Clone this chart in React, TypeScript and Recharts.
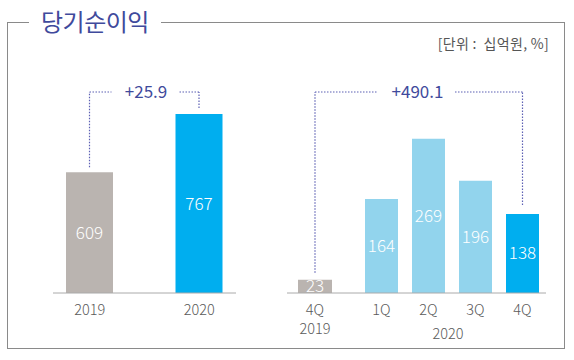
import React from 'react';
import { BarChart, Bar, XAxis, YAxis, LabelList, Cell } from 'recharts';

const yearCats = ['2019', '2020'];
const yearValues = [609, 767];
const yearGrowth = '+25.9';

const prevQuarterCat = ['4Q'];
const prevQuarterValues = [23];
const quarterCats = ['1Q', '2Q', '3Q', '4Q'];
const quarterValues = [164, 269, 196, 138];
const quarterGrowth = '+490.1';

const FONT = '"Noto Sans CJK KR", "Noto Sans", sans-serif';
const GRAY = '#bab4b0';
const BLUE = '#00aeef';
const LIGHT = '#92d4ed';
const NAVY = '#3f4a9c';
const DOT = '#5d60b4';
const TICK = '#5a5a5a';
const BRACKET_Y = 92;

const yearData = yearCats.map((name, i) => ({ name, v: yearValues[i] }));
const prevData = prevQuarterCat.map((name, i) => ({ name, v: prevQuarterValues[i] }));
const quarterData = quarterCats.map((name, i) => ({ name, v: quarterValues[i] }));

// chart top offsets so bracket y can be given in page pixels
const LEFT_TOP = 52;
const RIGHT_TOP = 61;

function dotted(x1: number, y1: number, x2: number, y2: number, key: string) {
  return <line key={key} x1={x1} y1={y1} x2={x2} y2={y2} stroke={DOT} strokeWidth={1.2} strokeDasharray="1.5 1.5" />;
}

function makeBracket(idx: number, side: 'left' | 'right', top: number, gap: number, reach: number, text?: string, textOff?: number) {
  return (p: any) => {
    if (p.index !== idx) return null;
    const x = Number(p.x), y = Number(p.y), w = Number(p.width);
    const cx = x + w / 2;
    const by = BRACKET_Y - top;
    const x2 = side === 'left' ? cx + reach : cx - reach;
    return (
      <g>
        {dotted(cx, y - gap, cx, by, 'v')}
        {dotted(cx, by, x2, by, 'h')}
        {text ? (
          <text x={cx - (textOff || 0)} y={by} dy={6} textAnchor="middle" fill={NAVY} fontSize={17} fontFamily={FONT}>
            {text}
          </text>
        ) : null}
      </g>
    );
  };
}

const tick = (second?: (v: string) => string | null) => (p: any) => {
  const { x, y, payload } = p;
  const s = second ? second(payload.value) : null;
  return (
    <g>
      <text x={x} y={y} dy={14} textAnchor="middle" fill={TICK} fontSize={14.5} fontWeight={300} fontFamily={FONT}>{payload.value}</text>
      {s ? <text x={x} y={y} dy={32.5} textAnchor="middle" fill={TICK} fontSize={14.5} fontWeight={300} fontFamily={FONT}>{s}</text> : null}
    </g>
  );
};

const valueLabel = { position: 'center' as const, fill: '#fff', fontSize: 17, fontWeight: 300, fontFamily: FONT };

export default function App() {
  return (
    <div style={{ position: 'relative', width: 574, height: 360, background: '#fff', fontFamily: FONT, overflow: 'hidden' }}>
      <style>{'body{margin:0}'}</style>
      {/* frame */}
      <div style={{ position: 'absolute', left: 7, top: 22, width: 558, height: 327, border: '1.5px solid #8a8a8a', boxSizing: 'border-box' }} />
      <div style={{ position: 'absolute', left: 29, top: 4, padding: '0 12px', background: '#fff', color: NAVY, fontSize: 24, lineHeight: '34px', letterSpacing: -0.5 }}>
        당기순이익
      </div>
      <div style={{ position: 'absolute', right: 25, top: 34, color: '#555', fontSize: 14, lineHeight: '18px', letterSpacing: 0.3 }}>
        [단위 :&nbsp; 십억원, %]
      </div>

      {/* annual */}
      <div style={{ position: 'absolute', left: 40, top: LEFT_TOP }}>
        <BarChart width={209} height={281} data={yearData} margin={{ top: 50, right: 13, bottom: 0, left: 13 }}>
          <XAxis dataKey="name" axisLine={{ stroke: '#aaa' }} tickLine={false} height={40} padding={{ left: -18, right: -18 }} tick={tick()} interval={0} />
          <YAxis hide domain={[280, 800]} />
          <Bar dataKey="v" barSize={47} isAnimationActive={false}>
            {yearData.map((d, i) => <Cell key={d.name} fill={i === 0 ? GRAY : BLUE} />)}
            <LabelList dataKey="v" {...valueLabel} />
            <LabelList dataKey="v" content={makeBracket(0, 'left', LEFT_TOP, 5, 22)} />
            <LabelList dataKey="v" content={makeBracket(1, 'right', LEFT_TOP, 6, 20, yearGrowth, 53)} />
          </Bar>
        </BarChart>
      </div>

      {/* 4Q 2019 */}
      <div style={{ position: 'absolute', left: 277, top: RIGHT_TOP }}>
        <BarChart width={111} height={284} data={prevData} margin={{ top: 60, right: 30, bottom: 0, left: 10 }}>
          <XAxis dataKey="name" axisLine={{ stroke: '#aaa' }} tickLine={false} height={52} padding={{ left: 0, right: 15 }} tick={tick(() => '2019')} interval={0} />
          <YAxis hide domain={[0, 300]} />
          <Bar dataKey="v" barSize={34} fill={GRAY} isAnimationActive={false}>
            <LabelList dataKey="v" {...valueLabel} />
            <LabelList dataKey="v" content={makeBracket(0, 'left', RIGHT_TOP, 7, 62)} />
          </Bar>
        </BarChart>
      </div>

      {/* 2020 quarters */}
      <div style={{ position: 'absolute', left: 358, top: RIGHT_TOP }}>
        <BarChart width={198} height={284} data={quarterData} margin={{ top: 60, right: 10, bottom: 0, left: 0 }}>
          <XAxis
            dataKey="name"
            axisLine={{ stroke: '#aaa' }}
            tickLine={false}
            height={52}
            tick={tick()}
            interval={0}
            label={{ value: '2020', position: 'insideBottom', offset: 6, dx: -4, fill: TICK, fontSize: 14.5, fontWeight: 300, fontFamily: FONT }}
          />
          <YAxis hide domain={[0, 300]} />
          <Bar dataKey="v" barSize={33} isAnimationActive={false}>
            {quarterData.map((d, i) => <Cell key={d.name} fill={i === quarterData.length - 1 ? BLUE : LIGHT} />)}
            <LabelList dataKey="v" {...valueLabel} />
            <LabelList dataKey="v" content={makeBracket(3, 'right', RIGHT_TOP, 9, 68, quarterGrowth, 105)} />
          </Bar>
        </BarChart>
      </div>
    </div>
  );
}
